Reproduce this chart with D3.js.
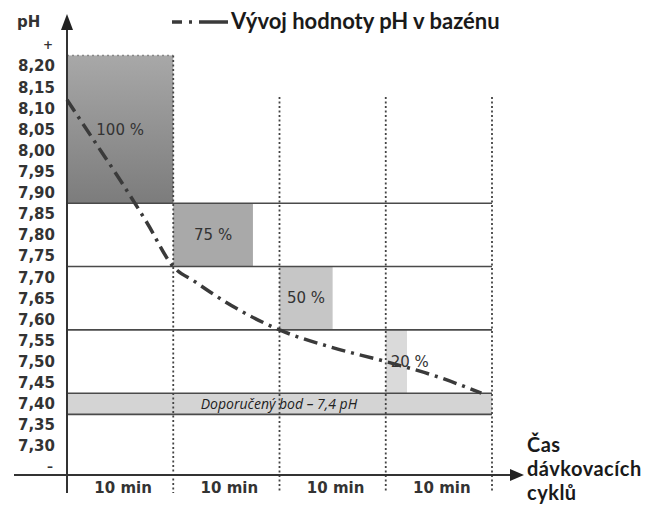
<!DOCTYPE html>
<html>
<head>
<meta charset="utf-8">
<script src="https://cdn.jsdelivr.net/npm/d3@7"></script>
<style>
  html, body { margin: 0; padding: 0; background: #fff; }
  svg { display: block; }
</style>
</head>
<body>
<svg id="chart" width="654" height="506"></svg>
<script>
// pH tick labels on the vertical axis
const phTicks = [8.20, 8.15, 8.10, 8.05, 8.00, 7.95, 7.90, 7.85, 7.80, 7.75,
                 7.70, 7.65, 7.60, 7.55, 7.50, 7.45, 7.40, 7.35, 7.30];
// dosing cycles along the time axis
const cycleLabels = ["10 min", "10 min", "10 min", "10 min"];
// dosing intensity per cycle (%) and the pH zone each one works in
const dosePct = [100, 75, 50, 20];
const doseText = ["100 %", "75 %", "50 %", "20 %"];
const zoneTop = [8.225, 7.875, 7.725, 7.575];
const zoneBottom = [7.875, 7.725, 7.575, 7.425];
const doseFill = ["url(#grad100)", "#a9a9a9", "#c6c6c6", "#dadada"];
// recommended set point band
const setPointLow = 7.375, setPointHigh = 7.425;
const setPointText = "Doporučený bod – 7,4 pH";
// pool pH development over time (time in cycles)
const curveTime = [0, 0.25, 0.5, 0.75, 1.0, 1.2, 1.5, 2.0, 2.5, 3.0, 3.5, 3.9];
const curvePH   = [8.12, 8.025, 7.93, 7.83, 7.725, 7.69, 7.64, 7.575, 7.533, 7.50, 7.463, 7.425];
// time axis title, one line each
const xTitleLines = ["Čas", "dávkovacích", "cyklů"];

const svg = d3.select("#chart");
const x = d3.scaleLinear().domain([0, 4]).range([67, 492]);
const y = d3.scaleLinear().domain([8.20, 7.30]).range([66, 446]);
const axisY = 475;
const fmt = v => d3.format(".2f")(v).replace(".", ",");

const defs = svg.append("defs");
const g = defs.append("linearGradient").attr("id", "grad100")
  .attr("x1", 0).attr("y1", 0).attr("x2", 0).attr("y2", 1);
g.append("stop").attr("offset", "0%").attr("stop-color", "#a8a8a8");
g.append("stop").attr("offset", "100%").attr("stop-color", "#7c7c7c");

// dosing blocks (width proportional to dosing intensity)
const cw = x(1) - x(0);
dosePct.forEach((p, i) => {
  const x0 = x(i), w = cw * p / 100;
  svg.append("rect")
    .attr("x", x0).attr("y", y(zoneTop[i]))
    .attr("width", w).attr("height", y(zoneBottom[i]) - y(zoneTop[i]))
    .attr("fill", doseFill[i]);
  svg.append("text")
    .attr("x", x0 + Math.max(w / 2, 24))
    .attr("y", (y(zoneTop[i]) + y(zoneBottom[i])) / 2)
    .attr("dy", "0.35em")
    .attr("text-anchor", "middle")
    .attr("font-family", "DejaVu Sans, Verdana, sans-serif")
    .attr("font-size", 15)
    .attr("fill", "#333")
    .text(doseText[i]);
});

// dotted top edge of the first block
svg.append("line")
  .attr("x1", x(0)).attr("x2", x(1))
  .attr("y1", y(zoneTop[0])).attr("y2", y(zoneTop[0]))
  .attr("stroke", "#888").attr("stroke-width", 1.5)
  .attr("stroke-dasharray", "2,3");

// recommended set point band
svg.append("rect")
  .attr("x", x(0)).attr("y", y(setPointHigh))
  .attr("width", x(4) - x(0)).attr("height", y(setPointLow) - y(setPointHigh))
  .attr("fill", "#d4d4d4");
svg.append("text")
  .attr("x", 279).attr("y", y(7.40)).attr("dy", "0.35em")
  .attr("text-anchor", "middle")
  .attr("font-family", "Open Sans, sans-serif")
  .attr("font-style", "italic").attr("font-size", 14).attr("fill", "#222")
  .text(setPointText);

// horizontal zone boundaries
const boundaries = [zoneBottom[0], zoneBottom[1], zoneBottom[2], setPointHigh, setPointLow];
svg.selectAll("line.zone").data(boundaries).join("line")
  .attr("class", "zone")
  .attr("x1", x(0)).attr("x2", x(4))
  .attr("y1", d => y(d)).attr("y2", d => y(d))
  .attr("stroke", "#4a4a4a").attr("stroke-width", 1.6);

// dotted cycle separators
[1, 2, 3, 4].forEach(t => {
  svg.append("line")
    .attr("x1", x(t)).attr("x2", x(t))
    .attr("y1", t === 1 ? y(zoneTop[0]) : 97).attr("y2", 493)
    .attr("stroke", "#444").attr("stroke-width", 1.8)
    .attr("stroke-dasharray", "2,2.5");
});

// pH curve
const line = d3.line().x((d, i) => x(curveTime[i])).y(d => y(d)).curve(d3.curveMonotoneX);
svg.append("path")
  .attr("d", line(curvePH))
  .attr("fill", "none").attr("stroke", "#3a3a3a").attr("stroke-width", 3.5)
  .attr("stroke-dasharray", "14,6,3,6");

// axes
svg.append("line").attr("x1", 14).attr("x2", 514).attr("y1", axisY).attr("y2", axisY)
  .attr("stroke", "#333").attr("stroke-width", 2);
svg.append("path").attr("d", `M524,${axisY} L510,${axisY - 6} L510,${axisY + 6} Z`).attr("fill", "#222");
svg.append("line").attr("x1", x(0)).attr("x2", x(0)).attr("y1", 493).attr("y2", 26)
  .attr("stroke", "#333").attr("stroke-width", 2);
svg.append("path").attr("d", `M${x(0)},14 L${x(0) - 6},30 L${x(0) + 6},30 Z`).attr("fill", "#222");

// y tick labels
const tickFont = "DejaVu Sans, Verdana, sans-serif";
svg.selectAll("text.tick").data(phTicks).join("text")
  .attr("class", "tick")
  .attr("x", 55).attr("y", d => y(d)).attr("dy", "0.36em")
  .attr("text-anchor", "end")
  .attr("font-family", tickFont).attr("font-weight", "bold").attr("font-size", 15)
  .attr("fill", "#333")
  .text(fmt);
svg.append("text").attr("x", 53).attr("y", y(8.25)).attr("dy", "0.36em")
  .attr("text-anchor", "end").attr("font-family", tickFont).attr("font-weight", "bold")
  .attr("font-size", 12).attr("fill", "#333").text("+");
svg.append("text").attr("x", 53).attr("y", y(7.25)).attr("dy", "0.36em")
  .attr("text-anchor", "end").attr("font-family", tickFont).attr("font-weight", "bold")
  .attr("font-size", 12).attr("fill", "#333").text("–");
svg.append("text").attr("x", 17).attr("y", 27)
  .attr("font-family", tickFont).attr("font-weight", "bold").attr("font-size", 15)
  .attr("fill", "#333").text("pH");

// x cycle labels
svg.selectAll("text.cycle").data(cycleLabels).join("text")
  .attr("class", "cycle")
  .attr("x", (d, i) => x(i + 0.5) + 3).attr("y", 493)
  .attr("text-anchor", "middle")
  .attr("font-family", tickFont).attr("font-weight", "bold").attr("font-size", 15)
  .attr("fill", "#333")
  .text(d => d);

// legend
svg.append("line").attr("x1", 172).attr("x2", 228).attr("y1", 22).attr("y2", 22)
  .attr("stroke", "#3a3a3a").attr("stroke-width", 3.5)
  .attr("stroke-dasharray", "10,7,3,7,40");
const titleFont = "Lato, Open Sans, sans-serif";
svg.append("text").attr("x", 231).attr("y", 29)
  .attr("font-family", titleFont).attr("font-weight", "bold").attr("font-size", 22)
  .attr("fill", "#1a1a1a").text("Vývoj hodnoty pH v bazénu");

// x axis title
svg.selectAll("text.xtitle").data(xTitleLines).join("text")
  .attr("class", "xtitle")
  .attr("x", 527).attr("y", (d, i) => 452 + i * 24)
  .attr("font-family", titleFont).attr("font-weight", "bold").attr("font-size", 20)
  .attr("letter-spacing", 0.5)
  .attr("fill", "#1a1a1a").text(d => d);
</script>
</body>
</html>
